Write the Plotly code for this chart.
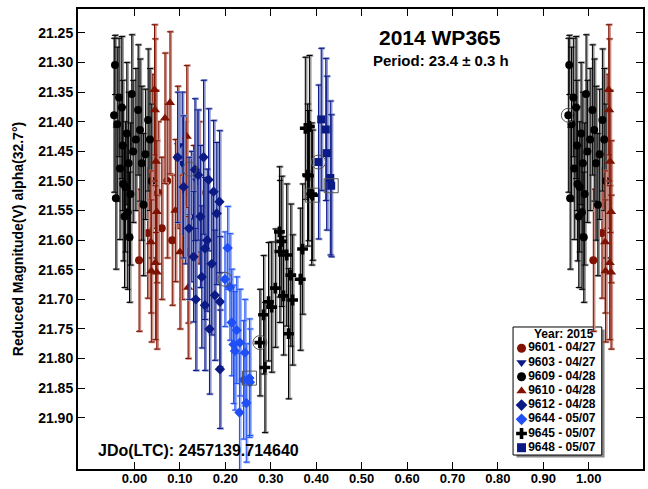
import plotly.graph_objects as go

# ---------------- data (phase in [0,1), reduced magnitude, error) ----------------
p9601 = [0.010, 0.029, 0.040, 0.052, 0.060, 0.072, 0.083, 0.095, 0.105, 0.118, 0.130, 0.142]
m9601 = [21.634, 21.588, 21.450, 21.520, 21.580, 21.500, 21.600, 21.460, 21.570, 21.620, 21.550, 21.520]
e9601 = [0.12, 0.11, 0.13, 0.12, 0.12, 0.13, 0.11, 0.12, 0.13, 0.12, 0.11, 0.12]

p9603 = [0.098, 0.105, 0.112, 0.125, 0.138]
m9603 = [21.440, 21.470, 21.520, 21.560, 21.500]
e9603 = [0.09, 0.12, 0.12, 0.11, 0.12]

p9609 = [0.955, 0.957, 0.959, 0.962, 0.966, 0.968, 0.972, 0.974, 0.975, 0.978, 0.980, 0.983, 0.985,
         0.987, 0.989, 0.991, 0.994, 0.997, 0.003, 0.008, 0.012, 0.016, 0.020, 0.024, 0.030, 0.034, 0.038]
m9609 = [21.389, 21.304, 21.529, 21.404, 21.359, 21.479, 21.376, 21.440, 21.505, 21.560, 21.510, 21.420, 21.553,
         21.470, 21.595, 21.522, 21.353, 21.450, 21.430, 21.380, 21.414, 21.470, 21.540, 21.455, 21.397, 21.430, 21.500]
e9609 = [0.13, 0.05, 0.12, 0.13, 0.10, 0.12, 0.12, 0.11, 0.13, 0.12, 0.11, 0.12, 0.13,
         0.12, 0.11, 0.12, 0.10, 0.12, 0.12, 0.11, 0.12, 0.13, 0.12, 0.11, 0.12, 0.12, 0.13]

p9610 = [0.036, 0.037, 0.044, 0.045, 0.046, 0.047, 0.049, 0.049, 0.067, 0.078, 0.090, 0.100, 0.115, 0.118]
m9610 = [21.603, 21.652, 21.346, 21.380, 21.638, 21.467, 21.552, 21.654, 21.394, 21.368, 21.550, 21.620, 21.425, 21.680]
e9610 = [0.12, 0.12, 0.11, 0.12, 0.13, 0.12, 0.12, 0.13, 0.11, 0.12, 0.12, 0.13, 0.12, 0.12]

p9612 = [0.095, 0.108, 0.120, 0.130, 0.133, 0.135, 0.140, 0.145, 0.148, 0.152, 0.155, 0.155, 0.160, 0.163,
         0.165, 0.170, 0.174, 0.177, 0.181, 0.187, 0.188, 0.188]
m9612 = [21.460, 21.510, 21.580, 21.628, 21.481, 21.700, 21.490, 21.560, 21.662, 21.460, 21.614, 21.710, 21.600, 21.498,
         21.750, 21.640, 21.518, 21.693, 21.555, 21.535, 21.704, 21.818]
e9612 = [0.11, 0.12, 0.12, 0.11, 0.12, 0.12, 0.11, 0.12, 0.12, 0.13, 0.12, 0.11, 0.12, 0.12,
         0.11, 0.12, 0.12, 0.11, 0.12, 0.12, 0.11, 0.10]

p9644 = [0.199, 0.205, 0.210, 0.214, 0.218, 0.221, 0.225, 0.231, 0.232, 0.240, 0.243, 0.246, 0.253, 0.254]
m9644 = [21.666, 21.613, 21.679, 21.739, 21.776, 21.787, 21.752, 21.891, 21.773, 21.836, 21.790, 21.875, 21.833, 21.840]
e9644 = [0.08, 0.07, 0.09, 0.09, 0.10, 0.10, 0.09, 0.10, 0.09, 0.10, 0.09, 0.10, 0.10, 0.09]

p9645 = [0.276, 0.284, 0.287, 0.295, 0.302, 0.310, 0.319, 0.320, 0.324, 0.328, 0.335, 0.339,
         0.344, 0.348, 0.365, 0.370, 0.376, 0.381, 0.383, 0.385, 0.390, 0.392]
m9645 = [21.773, 21.726, 21.815, 21.704, 21.713, 21.681, 21.586, 21.619, 21.602, 21.694, 21.625, 21.758,
         21.659, 21.701, 21.666, 21.615, 21.411, 21.490, 21.491, 21.408, 21.522, 21.524]
e9645 = [0.09, 0.10, 0.11, 0.10, 0.11, 0.10, 0.11, 0.12, 0.11, 0.10, 0.12, 0.11,
         0.12, 0.11, 0.12, 0.11, 0.12, 0.12, 0.11, 0.12, 0.12, 0.11]

p9648 = [0.405, 0.411, 0.421, 0.423, 0.431, 0.433]
m9648 = [21.468, 21.396, 21.413, 21.453, 21.495, 21.508]
e9648 = [0.13, 0.12, 0.12, 0.13, 0.13, 0.12]

# first-observation highlights
hl_circle_p = [0.955, 0.276, 0.405, 0.199, 0.122]
hl_circle_m = [21.389, 21.773, 21.468, 21.666, 21.480]
hl_square_p = [0.392, 0.433, 0.253]
hl_square_m = [21.524, 21.508, 21.833]

x_ticks = [0.0, 0.1, 0.2, 0.3, 0.4, 0.5, 0.6, 0.7, 0.8, 0.9, 1.0]
x_labels = ["0.00", "0.10", "0.20", "0.30", "0.40", "0.50", "0.60", "0.70", "0.80", "0.90", "1.00"]
y_ticks = [21.25, 21.30, 21.35, 21.40, 21.45, 21.50, 21.55, 21.60, 21.65, 21.70, 21.75, 21.80, 21.85, 21.90]
y_labels = ["%.2f" % v for v in y_ticks]

legend_names = ["9601 - 04/27", "9603 - 04/27", "9609 - 04/28", "9610 - 04/28",
                "9612 - 04/28", "9644 - 05/07", "9645 - 05/07", "9648 - 05/07"]


def wrap(ph, mg, er):
    xs, ys, es = [], [], []
    for a, b, c in zip(ph, mg, er):
        xs.append(a); ys.append(b); es.append(c)
        if a < 0.05:
            xs.append(a + 1); ys.append(b); es.append(c)
        if a > 0.95:
            xs.append(a - 1); ys.append(b); es.append(c)
    return xs, ys, es


RED, RED_L = "#7f1200", "#c98f86"
NAVY, NAVY_L = "#0c1a86", "#8c96cc"
BLUE, BLUE_L = "#1f4ff5", "#9fb5f7"
BLK, BLK_L = "#000000", "#9a9a9a"

series = [
    (p9601, m9601, e9601, "circle", 8, RED, RED_L),
    (p9603, m9603, e9603, "triangle-down", 9, NAVY, NAVY_L),
    (p9609, m9609, e9609, "circle", 8, BLK, BLK_L),
    (p9610, m9610, e9610, "triangle-up", 9, RED, RED_L),
    (p9612, m9612, e9612, "diamond", 8, NAVY, NAVY_L),
    (p9644, m9644, e9644, "diamond", 8, BLUE, BLUE_L),
    (p9645, m9645, e9645, "cross", 9, BLK, BLK_L),
    (p9648, m9648, e9648, "square", 8, NAVY, NAVY_L),
]

fig = go.Figure()
for ph, mg, er, sym, sz, col, lcol in series:
    xs, ys, es = wrap(ph, mg, er)
    fig.add_trace(go.Scatter(x=[v + 0.002 for v in xs], y=ys, mode="markers",
                             marker=dict(size=1, color="rgba(0,0,0,0)"),
                             error_y=dict(type="data", array=es, color=lcol, thickness=2.5, width=3),
                             showlegend=False, hoverinfo="skip"))
    fig.add_trace(go.Scatter(x=xs, y=ys, mode="markers",
                             marker=dict(symbol=sym, size=sz, color=col, line=dict(width=0)),
                             error_y=dict(type="data", array=es, color=col, thickness=1, width=3),
                             showlegend=False))

fig.add_trace(go.Scatter(x=hl_circle_p, y=hl_circle_m, mode="markers",
                         marker=dict(symbol="circle-open", size=14, color="#555555", line=dict(width=1)),
                         showlegend=False, hoverinfo="skip"))
fig.add_trace(go.Scatter(x=hl_square_p, y=hl_square_m, mode="markers",
                         marker=dict(symbol="square-open", size=14, color="#555555", line=dict(width=1)),
                         showlegend=False, hoverinfo="skip"))

# ---------------- legend (drawn on an overlay axis in paper-like units) ----------------
leg_syms = ["circle", "triangle-down", "circle", "triangle-up", "diamond", "diamond", "cross", "square"]
leg_cols = [RED, NAVY, BLK, RED, NAVY, BLUE, BLK, NAVY]
row_y = [0.2624 - 0.03087 * i for i in range(len(legend_names))]
fig.add_trace(go.Scatter(x=[0.785] * len(legend_names), y=row_y, mode="markers+text",
                         marker=dict(symbol=leg_syms, color=leg_cols, size=9),
                         text=["<b>%s</b>" % t for t in legend_names], textposition="middle right",
                         textfont=dict(family="Liberation Sans, Arial", size=12, color="black"),
                         xaxis="x2", yaxis="y2", showlegend=False, hoverinfo="skip"))

FONT = "Liberation Sans, Arial, sans-serif"
fig.update_layout(
    width=648, height=489,
    margin=dict(l=78, r=5, t=9, b=20),
    paper_bgcolor="white", plot_bgcolor="white",
    font=dict(family=FONT, color="black"),
    showlegend=False,
    xaxis=dict(range=[-0.1244, 1.1194], tickvals=x_ticks, ticktext=["<b>%s</b>" % t for t in x_labels],
               ticks="inside", ticklen=7, tickwidth=1, tickcolor="black", automargin=False,
               ticklabelstandoff=-4,
               showline=True, linecolor="black", linewidth=2, mirror="ticks",
               showgrid=False, zeroline=False, tickfont=dict(size=13)),
    yaxis=dict(range=[21.9865, 21.2095], tickvals=y_ticks, ticktext=["<b>%s</b>" % t for t in y_labels],
               ticks="inside", ticklen=7, tickwidth=1, tickcolor="black", automargin=False,
               showline=True, linecolor="black", linewidth=2, mirror="ticks",
               showgrid=False, zeroline=False, tickfont=dict(size=14),
               title=dict(text="<b>Reduced Magnitude(V) alpha(32.7°)</b>", font=dict(size=14), standoff=11)),
    xaxis2=dict(overlaying="x", range=[0, 1], visible=False),
    yaxis2=dict(overlaying="y", range=[0, 1], visible=False),
    shapes=[
        dict(type="rect", xref="paper", yref="paper", x0=0.776, x1=0.932, y0=0.025, y1=0.303,
             fillcolor="#888888", line=dict(width=0), layer="below"),
        dict(type="rect", xref="paper", yref="paper", x0=0.770, x1=0.927, y0=0.0304, y1=0.3087,
             fillcolor="white", line=dict(color="black", width=1), layer="below"),
    ],
    annotations=[
        dict(text="<b>2014 WP365</b>", xref="paper", yref="paper", x=0.640, y=0.938,
             showarrow=False, font=dict(size=21), xanchor="center", yanchor="middle"),
        dict(text="<b>Period: 23.4 ± 0.3 h</b>", xref="paper", yref="paper", x=0.642, y=0.889,
             showarrow=False, font=dict(size=15), xanchor="center", yanchor="middle"),
        dict(text="<b>JDo(LTC): 2457139.714640</b>", xref="paper", yref="paper", x=0.031, y=0.040,
             showarrow=False, font=dict(size=16), xanchor="left", yanchor="middle"),
        dict(text="<b>Year: 2015</b>", xref="paper", yref="paper", x=0.860, y=0.2935,
             showarrow=False, font=dict(size=12), xanchor="center", yanchor="middle"),
    ],
)

fig.write_html("out.html", config={"displayModeBar": False},
               post_script="document.body.style.margin='0';document.body.style.overflow='hidden';")
